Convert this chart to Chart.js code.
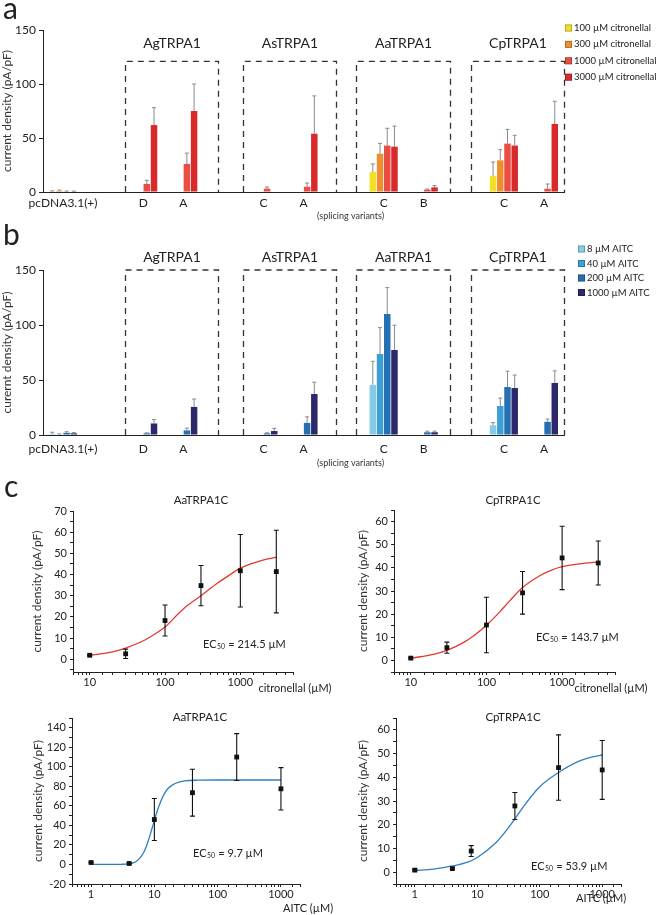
<!DOCTYPE html>
<html lang="en">
<head>
<meta charset="utf-8">
<title>TRPA1 current density</title>
<script src="https://cdn.jsdelivr.net/npm/chart.js@4.4.1/dist/chart.umd.min.js"></script>
<style>
  html, body { margin: 0; padding: 0; background: #fff; }
  #fig { position: relative; width: 658px; height: 915px; overflow: hidden; }
  #fig canvas { position: absolute; }
</style>
</head>
<body>
<div id="fig">
  <canvas id="citBars" width="658" height="224" style="left:0;top:0"></canvas>
  <canvas id="aitcBars" width="658" height="248" style="left:0;top:224px"></canvas>
  <canvas id="aaCit" width="345" height="226" style="left:0;top:474px"></canvas>
  <canvas id="cpCit" width="330" height="226" style="left:328px;top:474px"></canvas>
  <canvas id="aaAitc" width="345" height="215" style="left:0;top:700px"></canvas>
  <canvas id="cpAitc" width="330" height="215" style="left:328px;top:700px"></canvas>
</div>
<script>
const FONT = 'Lato, "Open Sans", sans-serif';
const INK = '#222';

// ---- panels a / b: categories (empty slots are the gaps between channels) ----
const variants = ['pcDNA3.1(+)', '', 'D', 'A', '', 'C', 'A', '', 'C', 'B', '', 'C', 'A'];
const channels = ['AgTRPA1', 'AsTRPA1', 'AaTRPA1', 'CpTRPA1'];
const boxSpans = [[1.55, 3.87], [4.49, 6.81], [7.31, 9.65], [10.18, 12.5]];

// a: citronellal
const citLabels = ['100 µM citronellal', '300 µM citronellal', '1000 µM citronellal', '3000 µM citronellal'];
const cit100   = [0.5, null, null, null, null, null, null, null, 18.5, null, null, 15, null];
const cit100E  = [0.5, null, null, null, null, null, null, null, 7.5, null, null, 12.8, null];
const cit300   = [1, null, null, null, null, null, null, null, 35.5, null, null, 29.3, null];
const cit300E  = [0.8, null, null, null, null, null, null, null, 9.5, null, null, 9.9, null];
const cit1000  = [0.5, null, 7.4, 26, null, 3.1, 4.9, null, 43, 2.2, null, 44.8, 3];
const cit1000E = [0.4, null, 3.4, 10, null, 1.5, 3.4, null, 16, 0.6, null, 13.2, 4.4];
const cit3000  = [0.5, null, 62, 75, null, null, 54, null, 42, 4.3, null, 43, 63];
const cit3000E = [0.3, null, 16, 25, null, null, 35, null, 19, 1.6, null, 9.5, 21];

// b: AITC
const aitcLabels = ['8 µM AITC', '40 µM AITC', '200 µM AITC', '1000 µM AITC'];
const aitc8     = [1, null, null, null, null, null, null, null, 45.5, null, null, 8.8, null];
const aitc8E    = [1.5, null, null, null, null, null, null, null, 21.5, null, null, 2.5, null];
const aitc40    = [0.5, null, null, null, null, null, null, null, 73.6, null, null, 26.4, null];
const aitc40E   = [0.5, null, null, null, null, null, null, null, 24, null, null, 7.2, null];
const aitc200   = [2, null, 1.5, 4.2, null, 1.5, 11, null, 110, 2.5, null, 43.6, 12];
const aitc200E  = [1, null, 0.5, 2, null, 0.5, 5.5, null, 24, 1, null, 14.4, 2.5];
const aitc1000  = [1.5, null, 10.5, 25.5, null, 3.6, 37.3, null, 77.3, 2.5, null, 42.7, 47.3];
const aitc1000E = [0.7, null, 3.5, 7.2, null, 2.4, 10.7, null, 22.5, 1, null, 11.8, 11];

// ---- panel c: dose-response ----
const citDose = [10, 30, 100, 300, 1000, 3000];
const aaCitMean = [1.9, 2.6, 18.3, 34.8, 41.8, 41.4];
const aaCitSem  = [0.3, 2.2, 7.3, 9.5, 17.1, 19.5];
const aaCitFitX = [10, 20, 30, 50, 70, 100, 150, 200, 300, 500, 700, 1000, 2000, 3000];
const aaCitFitY = [1.8, 3.5, 5.3, 8.5, 11.5, 15.2, 21.5, 25.5, 30, 36, 39.5, 43, 46.8, 48.2];

const cpCitMean = [1, 5.5, 15.3, 29.2, 44.3, 42.1];
const cpCitSem  = [0.3, 2.4, 12, 9.2, 13.7, 9.5];
const cpCitFitX = [10, 20, 30, 50, 70, 100, 150, 200, 300, 500, 700, 1000, 2000, 3000];
const cpCitFitY = [1, 2.6, 4.3, 7.8, 11, 15.2, 21, 25.5, 31.5, 36.5, 38.8, 40.5, 42, 42.5];

const aitcDoseAa = [1, 4, 10, 40, 200, 1000];
const aaAitcMean = [2, 1, 46, 73.5, 110, 77.5];
const aaAitcSem  = [0.5, 0.6, 21.5, 24, 24, 21.7];
const aaAitcFitX = [1, 3, 4, 5, 6, 7, 8, 9, 10, 11, 12, 14, 16, 20, 25, 30, 50, 100, 1000];
const aaAitcFitY = [0, 0.2, 0.6, 2.5, 7, 14, 24, 35, 45, 54, 61, 71, 77, 82, 84.5, 85.7, 86.3, 86.5, 86.5];

const aitcDoseCp = [1, 4, 8, 40, 200, 1000];
const cpAitcMean = [0.85, 1.5, 8.9, 27.9, 44.1, 43.1];
const cpAitcSem  = [0.3, 0.3, 2.3, 5.7, 13.8, 12.4];
const cpAitcFitX = [1, 2, 4, 7, 10, 20, 30, 40, 60, 100, 200, 400, 700, 1000];
const cpAitcFitY = [0.6, 1.3, 2.6, 4.2, 6.2, 12.5, 18, 22.5, 29, 36, 42, 46.5, 48.6, 49.4];

Chart.defaults.font.family = FONT;

// ---------- plugins ----------
function groupBoxes(topValue, titleGap, noteGap) {
  return {
    id: 'groupBoxes',
    afterDatasetsDraw(chart) {
      const { ctx, chartArea, scales: { x, y } } = chart;
      const top = y.getPixelForValue(topValue);
      const bottom = y.getPixelForValue(0);
      ctx.save();
      ctx.strokeStyle = '#333';
      ctx.lineWidth = 1.3;
      ctx.setLineDash([6, 5]);
      boxSpans.forEach(([a, b], i) => {
        const l = Math.round(x.getPixelForValue(a)) + 0.5;
        const r = Math.round(x.getPixelForValue(b)) + 0.5;
        ctx.beginPath();
        ctx.moveTo(l, bottom); ctx.lineTo(l, top); ctx.lineTo(r, top); ctx.lineTo(r, bottom);
        ctx.stroke();
        ctx.fillStyle = INK;
        ctx.font = '14px ' + FONT;
        ctx.textAlign = 'center';
        ctx.textBaseline = 'middle';
        ctx.fillText(channels[i], (l + r) / 2, top - titleGap);
      });
      ctx.font = '9px ' + FONT;
      ctx.fillStyle = '#333';
      ctx.fillText('(splicing variants)', x.getPixelForValue(7) + 7, chartArea.bottom + noteGap);
      ctx.restore();
    }
  };
}

const barErrors = {
  id: 'barErrors',
  afterDatasetsDraw(chart) {
    const { ctx, scales: { y } } = chart;
    ctx.save();
    ctx.strokeStyle = '#8a8a8a';
    ctx.lineWidth = 1;
    chart.data.datasets.forEach((ds, di) => {
      chart.getDatasetMeta(di).data.forEach((bar, i) => {
        const v = ds.data[i], e = ds.errors[i];
        if (v == null || e == null) return;
        const yTop = y.getPixelForValue(v + e);
        ctx.beginPath();
        ctx.moveTo(bar.x, bar.y); ctx.lineTo(bar.x, yTop);
        ctx.moveTo(bar.x - 2, yTop); ctx.lineTo(bar.x + 2, yTop);
        ctx.stroke();
      });
    });
    ctx.restore();
  }
};

function sideLegend(x, y0, step) {
  return {
    id: 'sideLegend',
    afterDraw(chart) {
      const ctx = chart.ctx;
      ctx.save();
      ctx.font = '9.5px ' + FONT;
      ctx.textBaseline = 'middle';
      ctx.textAlign = 'left';
      chart.data.datasets.forEach((ds, i) => {
        const cy = y0 + i * step;
        ctx.fillStyle = ds.backgroundColor;
        ctx.fillRect(x, cy - 3.5, 7, 7);
        ctx.strokeStyle = 'rgba(0,0,0,0.3)';
        ctx.lineWidth = 0.8;
        ctx.strokeRect(x + 0.4, cy - 3.1, 6.2, 6.2);
        ctx.fillStyle = INK;
        ctx.fillText(ds.label, x + 9, cy);
      });
      ctx.restore();
    }
  };
}

function overlayText(items) {
  return {
    id: 'overlayText',
    afterDraw(chart) {
      const ctx = chart.ctx;
      items.forEach(t => {
        ctx.save();
        ctx.fillStyle = t.color || INK;
        ctx.textAlign = t.align || 'left';
        ctx.textBaseline = t.baseline || 'middle';
        ctx.font = t.size + 'px ' + FONT;
        if (t.ec50) {
          ctx.textAlign = 'left';
          ctx.fillText('EC', t.x, t.y);
          let w = ctx.measureText('EC').width;
          ctx.font = (t.size * 0.62) + 'px ' + FONT;
          ctx.fillText('50', t.x + w + 0.5, t.y + 3);
          w += ctx.measureText('50').width + 1;
          ctx.font = t.size + 'px ' + FONT;
          ctx.fillText(' = ' + t.ec50 + ' µM', t.x + w, t.y);
        } else {
          ctx.fillText(t.text, t.x, t.y);
        }
        ctx.restore();
      });
    }
  };
}

const pointErrors = {
  id: 'pointErrors',
  afterDatasetsDraw(chart) {
    const { ctx, scales: { y } } = chart;
    ctx.save();
    ctx.strokeStyle = '#111';
    ctx.lineWidth = 1.1;
    chart.data.datasets.forEach((ds, di) => {
      if (!ds.errors) return;
      chart.getDatasetMeta(di).data.forEach((pt, i) => {
        const m = ds.data[i].y, e = ds.errors[i];
        const hi = y.getPixelForValue(m + e), lo = y.getPixelForValue(m - e);
        ctx.beginPath();
        ctx.moveTo(pt.x, hi); ctx.lineTo(pt.x, lo);
        ctx.moveTo(pt.x - 2.5, hi); ctx.lineTo(pt.x + 2.5, hi);
        ctx.moveTo(pt.x - 2.5, lo); ctx.lineTo(pt.x + 2.5, lo);
        ctx.stroke();
      });
    });
    ctx.restore();
  }
};

// ---------- bar panels ----------
function barPanel(id, o) {
  const datasets = o.series.map((s, i) => ({
    label: o.labels[i],
    data: s,
    errors: o.errors[i],
    backgroundColor: o.colors[i],
    borderWidth: 0,
    categoryPercentage: 0.72,
    barPercentage: 0.9
  }));
  return new Chart(document.getElementById(id), {
    type: 'bar',
    data: { labels: variants, datasets },
    options: {
      responsive: false,
      animation: false,
      devicePixelRatio: 1,
      layout: { padding: { top: o.top, right: 94, left: 0, bottom: 0 } },
      plugins: { legend: { display: false }, tooltip: { enabled: false } },
      scales: {
        x: {
          grid: { display: false, drawTicks: false },
          border: { color: INK, width: 1 },
          ticks: { color: INK, font: { size: 12 }, padding: o.tickPad, autoSkip: false, maxRotation: 0 },
          afterFit: s => { s.height = o.xHeight; }
        },
        y: {
          min: 0,
          max: 150,
          ticks: { stepSize: 50, color: INK, font: { size: 12 }, padding: 3 },
          grid: { drawOnChartArea: false, color: INK, tickLength: 4 },
          border: { color: INK, width: 1 },
          title: { display: true, text: o.yTitle, color: '#333', font: { size: 12 }, padding: 0 },
          afterFit: s => { s.width = 43; }
        }
      }
    },
    plugins: [groupBoxes(o.boxTop, o.titleGap, o.noteGap), barErrors,
              sideLegend(o.legendX, o.legendY, o.legendStep), overlayText(o.texts)]
  });
}

barPanel('citBars', {
  labels: citLabels,
  series: [cit100, cit300, cit1000, cit3000],
  errors: [cit100E, cit300E, cit1000E, cit3000E],
  colors: ['#f3df25', '#ee8e2c', '#ea4d44', '#d82a2a'],
  yTitle: 'current density (pA/pF)',
  top: 30, xHeight: 32, tickPad: 4,
  boxTop: 121, titleGap: 18, noteGap: 24,
  legendX: 565, legendY: 28, legendStep: 16.4,
  texts: [{ text: 'a', x: 3, y: 19, size: 30, baseline: 'alphabetic' }]
});

barPanel('aitcBars', {
  labels: aitcLabels,
  series: [aitc8, aitc40, aitc200, aitc1000],
  errors: [aitc8E, aitc40E, aitc200E, aitc1000E],
  colors: ['#86cce6', '#3d9fd5', '#2470b2', '#2b296b'],
  yTitle: 'curernt density (pA/pF)',
  top: 46, xHeight: 37, tickPad: 7,
  boxTop: 150, titleGap: 13, noteGap: 28,
  legendX: 578, legendY: 25, legendStep: 14.5,
  texts: [{ text: 'b', x: 3, y: 21, size: 30, baseline: 'alphabetic' }]
});

// ---------- dose-response panels ----------
const isDecade = v => Math.abs(Math.log10(v) - Math.round(Math.log10(v))) < 1e-9;

function dosePanel(id, o) {
  return new Chart(document.getElementById(id), {
    type: 'scatter',
    data: {
      datasets: [
        {
          data: o.dose.map((d, i) => ({ x: d, y: o.mean[i] })),
          errors: o.sem,
          pointStyle: 'rect',
          pointRadius: 3.4,
          pointBorderWidth: 0,
          backgroundColor: '#111',
          borderColor: '#111'
        },
        {
          type: 'line',
          data: o.fitX.map((d, i) => ({ x: d, y: o.fitY[i] })),
          borderColor: o.color,
          borderWidth: 1.3,
          pointRadius: 0,
          cubicInterpolationMode: 'monotone',
          fill: false
        }
      ]
    },
    options: {
      responsive: false,
      animation: false,
      devicePixelRatio: 1,
      layout: { padding: { top: o.top, right: o.right, left: 0, bottom: 0 } },
      plugins: { legend: { display: false }, tooltip: { enabled: false } },
      scales: {
        x: {
          type: 'logarithmic',
          min: o.xMin,
          max: o.xMax,
          grid: { drawOnChartArea: false, color: INK, tickLength: 3 },
          border: { color: INK, width: 1 },
          ticks: {
            autoSkip: false, maxRotation: 0, color: INK, font: { size: 11 }, padding: 1,
            callback: v => isDecade(v) ? String(v) : ''
          },
          afterFit: s => { s.height = o.xh; }
        },
        y: {
          min: o.yMin,
          max: o.yMax,
          afterBuildTicks: s => {
            const ticks = [];
            for (let v = Math.ceil(o.yMin / o.yStep) * o.yStep; v <= o.yMax; v += o.yStep) ticks.push({ value: v });
            s.ticks = ticks;
          },
          ticks: {
            autoSkip: false, color: INK, font: { size: 11 }, padding: 3,
            callback: v => v % o.yLabelStep === 0 ? String(v) : ''
          },
          grid: { drawOnChartArea: false, color: INK, tickLength: 3 },
          border: { color: INK, width: 1 },
          title: { display: true, text: 'current density (pA/pF)', color: '#333', font: { size: 12 }, padding: { top: o.titlePad, bottom: 0 } },
          afterFit: s => { s.width = o.left; }
        }
      }
    },
    plugins: [pointErrors, overlayText(o.texts)]
  });
}

dosePanel('aaCit', {
  dose: citDose, mean: aaCitMean, sem: aaCitSem, fitX: aaCitFitX, fitY: aaCitFitY, color: '#e2392e',
  xMin: 6, xMax: 5000, yMin: -6, yMax: 70, yStep: 5, yLabelStep: 10,
  left: 73, right: 52, top: 37, xh: 28, titlePad: 30,
  texts: [
    { text: 'c', x: 4, y: 23, size: 30, baseline: 'alphabetic' },
    { text: 'AaTRPA1C', x: 201, y: 26, size: 11.5, align: 'center' },
    { text: 'citronellal (µM)', x: 295, y: 214, size: 11, align: 'center' },
    { ec50: '214.5', x: 203, y: 170, size: 11 }
  ]
});

dosePanel('cpCit', {
  dose: citDose, mean: cpCitMean, sem: cpCitSem, fitX: cpCitFitX, fitY: cpCitFitY, color: '#e2392e',
  xMin: 6, xMax: 5000, yMin: -5, yMax: 65, yStep: 5, yLabelStep: 10,
  left: 66, right: 43, top: 36, xh: 28, titlePad: 28,
  texts: [
    { text: 'CpTRPA1C', x: 185, y: 26, size: 11.5, align: 'center' },
    { text: 'citronellal (µM)', x: 283, y: 214, size: 11, align: 'center' },
    { ec50: '143.7', x: 208, y: 163, size: 11 }
  ]
});

dosePanel('aaAitc', {
  dose: aitcDoseAa, mean: aaAitcMean, sem: aaAitcSem, fitX: aaAitcFitX, fitY: aaAitcFitY, color: '#2f7fc1',
  xMin: 0.5, xMax: 2000, yMin: -20, yMax: 150, yStep: 10, yLabelStep: 20,
  left: 72, right: 45, top: 18, xh: 31, titlePad: 31,
  texts: [
    { text: 'AaTRPA1C', x: 200, y: 17, size: 11.5, align: 'center' },
    { text: 'AITC (µM)', x: 283, y: 208, size: 11 },
    { ec50: '9.7', x: 193, y: 153, size: 11 }
  ]
});

dosePanel('cpAitc', {
  dose: aitcDoseCp, mean: cpAitcMean, sem: cpAitcSem, fitX: cpAitcFitX, fitY: cpAitcFitY, color: '#2f7fc1',
  xMin: 0.5, xMax: 2000, yMin: -5, yMax: 65, yStep: 5, yLabelStep: 10,
  left: 68, right: 37, top: 18, xh: 31, titlePad: 28,
  texts: [
    { text: 'CpTRPA1C', x: 185, y: 17, size: 11.5, align: 'center' },
    { text: 'AITC (µM)', x: 248, y: 198, size: 11 },
    { ec50: '53.9', x: 203, y: 166, size: 11 }
  ]
});
</script>
</body>
</html>
